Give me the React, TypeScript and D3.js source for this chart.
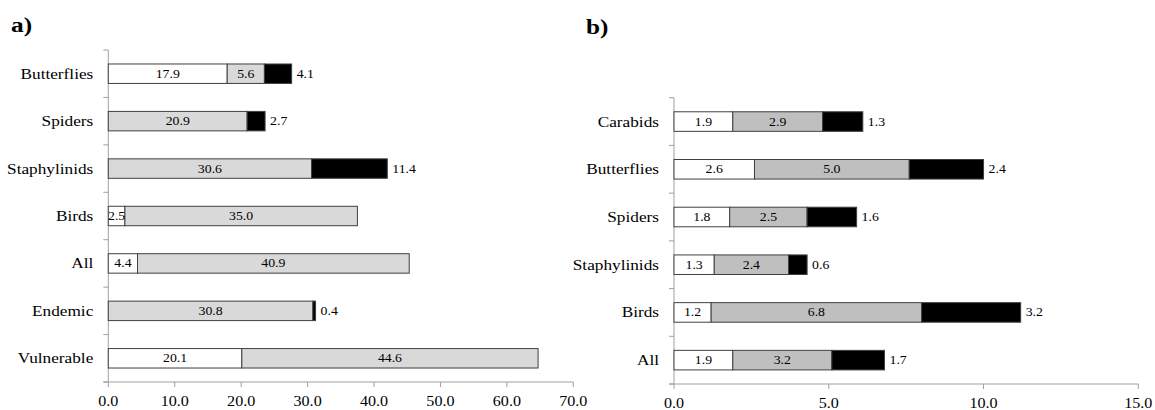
import React from "react";
import * as d3 from "d3";

// Panel a data
const catsA = ["Butterflies", "Spiders", "Staphylinids", "Birds", "All", "Endemic", "Vulnerable"];
const whiteA = [17.9, 0, 0, 2.5, 4.4, 0, 20.1];
const grayA = [5.6, 20.9, 30.6, 35.0, 40.9, 30.8, 44.6];
const blackA = [4.1, 2.7, 11.4, 0, 0, 0.4, 0];
const ticksA = [0, 10, 20, 30, 40, 50, 60, 70];

// Panel b data
const catsB = ["Carabids", "Butterflies", "Spiders", "Staphylinids", "Birds", "All"];
const whiteB = [1.9, 2.6, 1.8, 1.3, 1.2, 1.9];
const grayB = [2.9, 5.0, 2.5, 2.4, 6.8, 3.2];
const blackB = [1.3, 2.4, 1.6, 0.6, 3.2, 1.7];
const ticksB = [0, 5, 10, 15];

const FONT = "'Liberation Serif', 'Times New Roman', serif";
const SX = 1.15;

type PanelProps = {
  title: string;
  titleX: number;
  titleY: number;
  cats: string[];
  series: number[][];
  fills: string[];
  ticks: number[];
  xMax: number;
  x0: number;
  x1: number;
  yTop: number;
  yBottom: number;
};

function SText(props: { x: number; y: number; anchor: string; size: number; bold?: boolean; children: React.ReactNode }) {
  return (
    <text
      transform={`translate(${props.x},${props.y}) scale(${SX},1)`}
      textAnchor={props.anchor as any}
      fontSize={props.size}
      fontWeight={props.bold ? "bold" : "normal"}
      fontFamily={FONT}
      fill="#000"
    >
      {props.children}
    </text>
  );
}

function Panel(p: PanelProps) {
  const x = d3.scaleLinear().domain([0, p.xMax]).range([p.x0, p.x1]);
  const y = d3.scaleBand<string>().domain(p.cats).range([p.yTop, p.yBottom]).paddingInner(0.59).paddingOuter(0.295);
  const step = y.step();
  const bw = y.bandwidth();
  const boundaries = d3.range(p.cats.length + 1).map((i) => p.yTop + i * step);
  const stacked = p.cats.map((c, i) => {
    let acc = 0;
    return p.series.map((s, k) => {
      const v = s[i];
      const seg = { k, v, start: acc, end: acc + v };
      acc += v;
      return seg;
    });
  });
  const axisColor = "#a0a0a0";
  return (
    <g>
      <SText x={p.titleX} y={p.titleY} anchor="start" size={22} bold>
        {p.title}
      </SText>
      {/* y axis */}
      <line x1={p.x0} x2={p.x0} y1={p.yTop} y2={p.yBottom} stroke={axisColor} strokeWidth={1} />
      {boundaries.map((b, i) => (
        <line key={"yt" + i} x1={p.x0 - 5} x2={p.x0} y1={b} y2={b} stroke={axisColor} strokeWidth={1} />
      ))}
      {/* x axis */}
      <line x1={p.x0 - 5} x2={p.x1} y1={p.yBottom} y2={p.yBottom} stroke={axisColor} strokeWidth={1} />
      {p.ticks.map((t) => (
        <g key={"xt" + t}>
          <line x1={x(t)} x2={x(t)} y1={p.yBottom} y2={p.yBottom + 5} stroke={axisColor} strokeWidth={1} />
          <SText x={x(t)} y={p.yBottom + 24} anchor="middle" size={14}>
            {t.toFixed(1)}
          </SText>
        </g>
      ))}
      {/* bars */}
      {p.cats.map((c, i) => {
        const yy = y(c)!;
        const cy = yy + bw / 2;
        const segs = stacked[i];
        const total = segs[segs.length - 1].end;
        return (
          <g key={c}>
            <SText x={p.x0 - 15} y={cy + 5} anchor="end" size={15}>
              {c}
            </SText>
            {segs.map((s) =>
              s.v > 0 ? (
                <rect
                  key={s.k}
                  x={x(s.start)}
                  y={yy}
                  width={x(s.end) - x(s.start)}
                  height={bw}
                  fill={p.fills[s.k]}
                  stroke="#404040"
                  strokeWidth={1}
                />
              ) : null
            )}
            {segs.map((s) => {
              if (s.v <= 0) return null;
              if (s.k < 2) {
                return (
                  <SText key={"l" + s.k} x={(x(s.start) + x(s.end)) / 2} y={cy + 4} anchor="middle" size={12}>
                    {s.v.toFixed(1)}
                  </SText>
                );
              }
              return (
                <SText key={"l" + s.k} x={x(total) + 5} y={cy + 4} anchor="start" size={12}>
                  {s.v.toFixed(1)}
                </SText>
              );
            })}
          </g>
        );
      })}
    </g>
  );
}

export default function App() {
  return (
    <svg
      width={1155}
      height={410}
      style={{ position: "absolute", left: 0, top: 0, background: "#fff" }}
    >
      <rect x={0} y={0} width={1155} height={410} fill="#fff" />
      <Panel
        title="a)"
        titleX={11}
        titleY={32}
        cats={catsA}
        series={[whiteA, grayA, blackA]}
        fills={["#ffffff", "#d9d9d9", "#000000"]}
        ticks={ticksA}
        xMax={70}
        x0={108.3}
        x1={573.3}
        yTop={50}
        yBottom={382}
      />
      <Panel
        title="b)"
        titleX={586}
        titleY={34}
        cats={catsB}
        series={[whiteB, grayB, blackB]}
        fills={["#ffffff", "#bfbfbf", "#000000"]}
        ticks={ticksB}
        xMax={15}
        x0={674}
        x1={1138.3}
        yTop={97.7}
        yBottom={384}
      />
    </svg>
  );
}
